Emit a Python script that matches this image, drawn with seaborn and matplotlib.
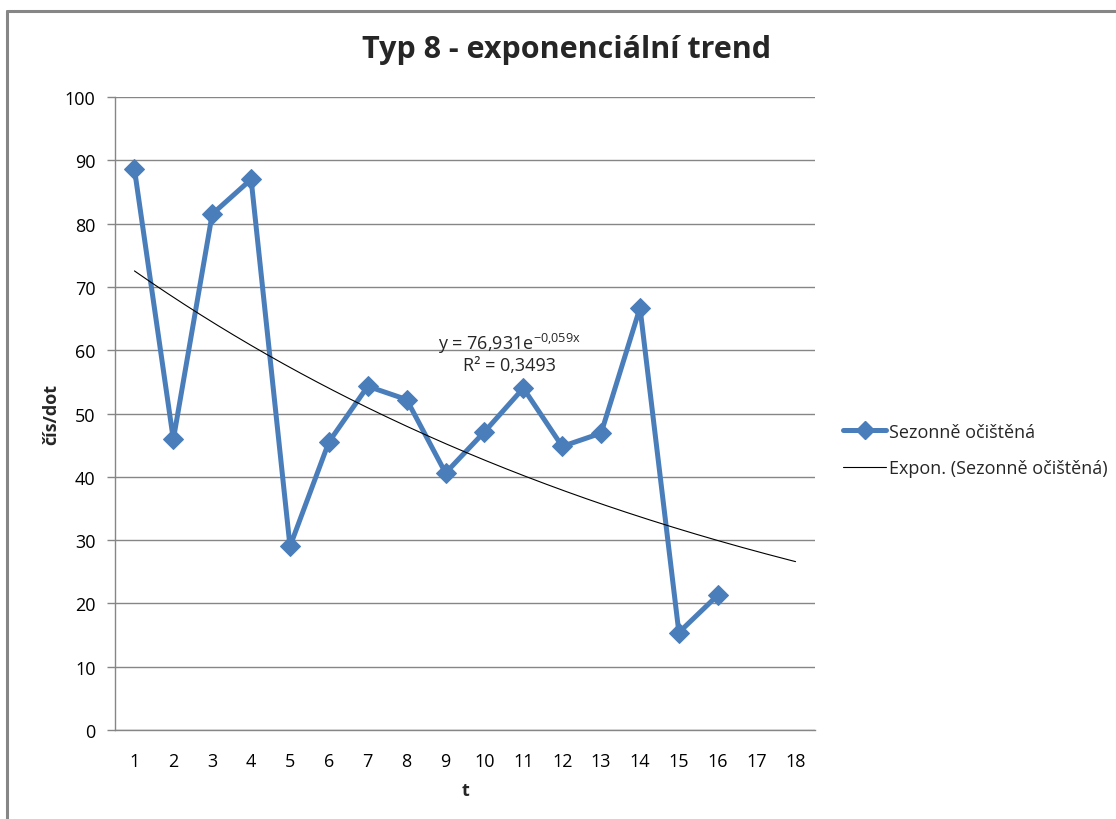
import numpy as np
import pandas as pd
import matplotlib
matplotlib.use("Agg")
import matplotlib.pyplot as plt
import seaborn as sns
from matplotlib.lines import Line2D

# ---- data ----
t = list(range(1, 17))
values = [88.6, 45.9, 81.5, 87.0, 29.0, 45.5, 54.3, 52.2,
          40.6, 47.1, 54.0, 44.8, 46.9, 66.7, 15.4, 21.3]
trend_a = 76.931
trend_b = -0.059
trend_t = list(range(1, 19))
categories = [str(i) for i in range(1, 19)]
y_ticks = [0, 10, 20, 30, 40, 50, 60, 70, 80, 90, 100]
series_name = "Sezonně očištěná"
trend_name = "Expon. (Sezonně očištěná)"
title = "Typ 8 - exponenciální trend"
eq_text = r"y = 76,931e$^{\mathregular{-0{,}059x}}$"
r2_text = "R² = 0,3493"

sns.set_theme(style="white")
plt.rcParams['font.family'] = ['Open Sans', 'DejaVu Sans']

blue = "#4A7EBB"
grid = "#868686"
fs = 13

fig = plt.figure(figsize=(11.16, 8.2), dpi=100)
ax = fig.add_axes([115/1116, 1-731/820, 700/1116, 633/820])

df = pd.DataFrame({"t": t, "v": values})
tt = np.linspace(trend_t[0], trend_t[-1], 200)
trend_df = pd.DataFrame({"t": tt, "v": trend_a*np.exp(trend_b*tt)})

sns.lineplot(data=df, x="t", y="v", ax=ax, color=blue, linewidth=3.6,
             marker="D", markersize=10, markeredgecolor=blue, zorder=3)
sns.lineplot(data=trend_df, x="t", y="v", ax=ax, color="black", linewidth=0.8, zorder=4)

ax.set_xlim(0.5, 18.5)
ax.set_ylim(0, 100)
ax.set_yticks(y_ticks)
ax.set_yticklabels([str(v) for v in y_ticks])
ax.yaxis.grid(True, color=grid, linewidth=1)
ax.xaxis.grid(False)
ax.set_xticks(range(1, 19))
ax.set_xticklabels(categories)
ax.set_xticks(np.arange(0.5, 19, 1), minor=True)
ax.tick_params(axis='x', which='major', length=0, pad=16, labelsize=fs, colors='black')
ax.tick_params(axis='x', which='minor', length=6, width=1, color=grid, direction='out')
ax.tick_params(axis='y', which='major', length=6, width=1, color=grid, direction='out',
               labelsize=fs, pad=8, left=True, labelcolor='black')
for s in ['top', 'right']:
    ax.spines[s].set_visible(False)
for s in ['left', 'bottom']:
    ax.spines[s].set_color(grid)
    ax.spines[s].set_linewidth(1)

ax.set_xlabel("t", fontsize=fs, fontweight='bold', labelpad=8)
ax.set_ylabel("čís/dot", fontsize=fs, fontweight='bold', labelpad=3)

ax.text(10.65, 61.2, eq_text, ha='center', va='center', fontsize=fs, color='#262626')
ax.text(10.65, 57.6, r2_text, ha='center', va='center', fontsize=fs, color='#262626')

fig.text(567/1116, 1-50/820, title, ha='center', va='center', fontsize=22, fontweight='bold')

handles = [Line2D([], [], color=blue, linewidth=3.6, marker='D', markersize=9),
           Line2D([], [], color='black', linewidth=0.8)]
fig.legend(handles, [series_name, trend_name], loc='center left',
           bbox_to_anchor=(843/1116, 1-451/820), frameon=False, fontsize=fs,
           handlelength=2.4, handletextpad=0.15, labelspacing=1.05,
           borderpad=0, borderaxespad=0)

# outer chart frame (partially visible)
fig.add_artist(Line2D([7/1116, 7/1116], [0, 1-12/820], color=grid, linewidth=2.2,
                      transform=fig.transFigure))
fig.add_artist(Line2D([7/1116, 1], [1-12/820, 1-12/820], color=grid, linewidth=2.2,
                      transform=fig.transFigure))

fig.savefig("out.png", dpi=100)
